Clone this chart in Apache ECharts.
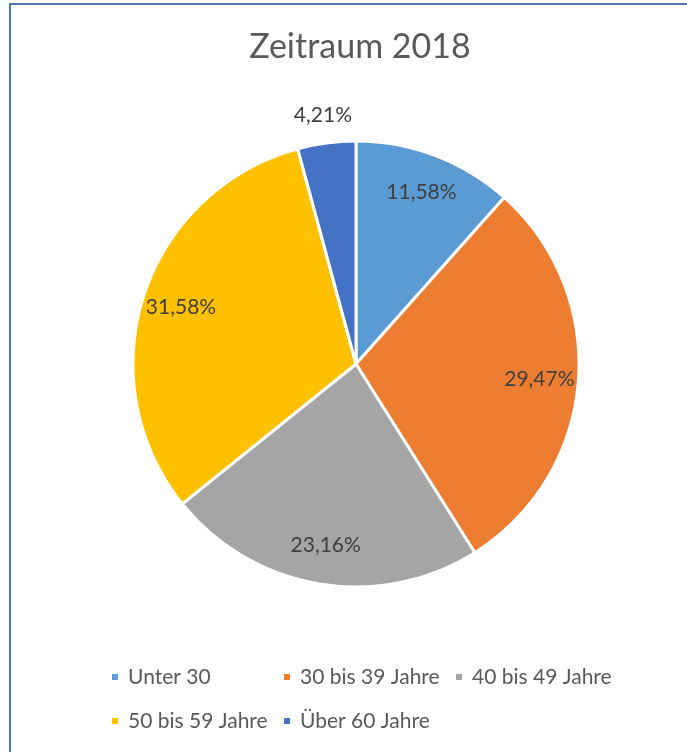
<!DOCTYPE html>
<html>
<head>
<meta charset="utf-8">
<script src="https://cdn.jsdelivr.net/npm/echarts@6/dist/echarts.min.js"></script>
<style>
  html, body { margin: 0; padding: 0; background: #fff; }
  #chart { width: 687px; height: 752px; }
</style>
</head>
<body>
<div id="chart"></div>
<script>
// Altersgruppen und Anzahl (ergibt die Prozentwerte aus dem Bild)
let categories = ['Unter 30', '30 bis 39 Jahre', '40 bis 49 Jahre', '50 bis 59 Jahre', 'Über 60 Jahre'];
let counts = [11, 28, 22, 30, 4];
let colors = ['#5B9BD5', '#ED7D31', '#A5A5A5', '#FFC000', '#4472C4'];
// welches Label ausserhalb des Kreises steht
let outsideLabel = [false, false, false, false, true];

const fontName = 'Lato';
const cx = 356, cy = 364, R = 223;

const fmt = (p) => p.percent.toFixed(2).replace('.', ',') + '%';

const mainData = categories.map((name, i) => ({
    name: name,
    value: counts[i],
    itemStyle: { color: colors[i] }
}));

const labelData = (outside) => categories.map((name, i) => ({
    name: name,
    value: counts[i],
    label: { show: outsideLabel[i] === outside }
}));

const labelSeries = (radius, outside) => ({
    type: 'pie',
    center: [cx, cy],
    radius: radius,
    startAngle: 90,
    clockwise: true,
    silent: true,
    itemStyle: { color: 'rgba(0,0,0,0)', borderWidth: 0 },
    emphasis: { disabled: true },
    labelLine: { show: false },
    label: {
        position: 'inside',
        formatter: fmt,
        color: '#404040',
        fontFamily: fontName,
        fontSize: 21
    },
    data: labelData(outside)
});

let chart = echarts.init(document.getElementById('chart'));
let option = {
    animation: false,
    title: {
        text: 'Zeitraum 2018',
        left: 355,
        textAlign: 'center',
        top: 25,
        textStyle: { color: '#595959', fontFamily: fontName, fontSize: 34, fontWeight: 'normal' }
    },
    legend: {
        left: 110,
        top: 657,
        width: 513,
        padding: 0,
        icon: 'rect',
        itemWidth: 8,
        itemHeight: 8,
        itemGap: 4,
        data: categories,
        textStyle: {
            color: '#595959',
            fontFamily: fontName,
            fontSize: 21,
            width: 150,
            lineHeight: 40,
            padding: [0, 0, 0, 4]
        }
    },
    graphic: [{
        type: 'rect',
        shape: { x: 10, y: 4, width: 700, height: 780 },
        style: { fill: 'none', stroke: '#4A76A8', lineWidth: 2 },
        silent: true
    }],
    series: [
        {
            type: 'pie',
            center: [cx, cy],
            radius: [0, R],
            startAngle: 90,
            clockwise: true,
            itemStyle: { borderColor: '#fff', borderWidth: 3 },
            emphasis: { disabled: true },
            label: { show: false },
            labelLine: { show: false },
            data: mainData
        },
        labelSeries([139, R], false),
        labelSeries([R, 273], true)
    ]
};
chart.setOption(option);
</script>
</body>
</html>
